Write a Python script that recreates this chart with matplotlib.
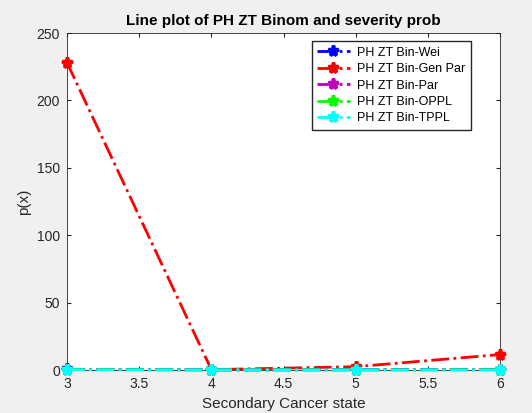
import matplotlib.pyplot as plt

plt.rcParams['font.family'] = ['Liberation Sans', 'DejaVu Sans']

states = [3, 4, 5, 6]
wei = [0.5, 0.2, 0.3, 0.4]
gen_par = [228, 0.3, 2.5, 11.5]
par = [0.4, 0.2, 0.2, 0.3]
oppl = [0.3, 0.1, 0.1, 0.2]
tppl = [0.2, 0.1, 0.1, 0.1]

series = [
    (wei, 'b', 'PH ZT Bin-Wei'),
    (gen_par, 'r', 'PH ZT Bin-Gen Par'),
    (par, 'm', 'PH ZT Bin-Par'),
    (oppl, 'lime', 'PH ZT Bin-OPPL'),
    (tppl, 'cyan', 'PH ZT Bin-TPPL'),
]

fig = plt.figure(figsize=(5.32, 4.13), dpi=100, facecolor='#f0f0f0')
ax = fig.add_axes([0.126, 0.104, 0.814, 0.816])

for ys, c, lab in series:
    ax.plot(states, ys, ls='-.', marker='*', color=c, lw=2, ms=8, mew=2.5,
            label=lab, clip_on=False, zorder=3)

ax.set_xlim(3, 6)
ax.set_ylim(0, 250)
ax.set_xticks([3, 3.5, 4, 4.5, 5, 5.5, 6])
ax.set_xticklabels(['3', '3.5', '4', '4.5', '5', '5.5', '6'])
ax.set_yticks(range(0, 251, 50))
ax.tick_params(direction='in', labelsize=10, colors='#262626', top=True, right=True,
               length=3, pad=5)
for s in ax.spines.values():
    s.set_color('#262626')
    s.set_linewidth(0.6)

ax.set_xlabel('Secondary Cancer state', fontsize=11, color='#262626')
ax.set_ylabel('p(x)', fontsize=11, color='#262626')
ax.set_title('Line plot of PH ZT Binom and severity prob', fontsize=11, fontweight='bold')

ax.legend(loc='upper right', bbox_to_anchor=(0.933, 0.976), borderaxespad=0, fontsize=9,
          fancybox=False, edgecolor='#262626', framealpha=1, handlelength=2.6,
          handletextpad=0.6, borderpad=0.45, labelspacing=0.35)

fig.savefig('out.png', dpi=100, facecolor=fig.get_facecolor())
